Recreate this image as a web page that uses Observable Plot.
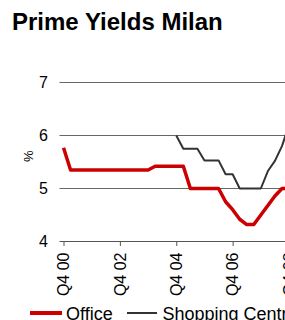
<!DOCTYPE html>
<html><head><meta charset="utf-8">
<script src="https://cdn.jsdelivr.net/npm/d3@7"></script>
<script src="https://cdn.jsdelivr.net/npm/@observablehq/plot@0.6"></script>
<style>
html,body{margin:0;padding:0;background:#fff;overflow:hidden;width:285px;height:320px;font-family:Arial,"Liberation Sans",sans-serif;}
#title{font-weight:bold;font-size:24px;line-height:24px;height:24px;padding:10px 0 0 12px;color:#000;white-space:nowrap;}
#chart svg{display:block;}
#legend{position:relative;height:18px;margin-top:-1px;font-size:18px;line-height:18px;white-space:nowrap;color:#000;}
#legend .sw{position:absolute;}
#legend .lb{position:absolute;top:0;}
</style></head><body>
<div id="title">Prime Yields Milan</div>
<div id="chart"></div>
<div id="legend"></div>
<script>
const quarters = ["Q4 00","Q1 01","Q2 01","Q3 01","Q4 01","Q1 02","Q2 02","Q3 02","Q4 02",
  "Q1 03","Q2 03","Q3 03","Q4 03","Q1 04","Q2 04","Q3 04","Q4 04",
  "Q1 05","Q2 05","Q3 05","Q4 05","Q1 06","Q2 06","Q3 06","Q4 06",
  "Q1 07","Q2 07","Q3 07","Q4 07","Q1 08","Q2 08","Q3 08","Q4 08"];
const office = [5.77,5.35,5.35,5.35,5.35,5.35,5.35,5.35,5.35,5.35,5.35,5.35,5.35,
  5.42,5.42,5.42,5.42,5.42,5.0,5.0,5.0,5.0,5.0,
  4.75,4.6,4.42,4.32,4.32,4.5,4.68,4.86,5.0,5.0];
const shopping = [null,null,null,null,null,null,null,null,null,null,null,null,null,null,null,null,
  6.0,5.75,5.75,5.75,5.53,5.53,5.53,5.27,5.27,5.0,5.0,5.0,5.0,5.33,5.52,5.8,6.2];
const tickLabels = ["Q4 00","Q4 02","Q4 04","Q4 06","Q4 08"];
const yTicks = [4,5,6,7];
const seriesNames = ["Office","Shopping Centre"];
const seriesColors = ["#cc0000","#333333"];

const data = quarters.map((q,i)=>({i, q, office: office[i], shopping: shopping[i]}));
const xPos = d => d.i + 0.5;

const chart = Plot.plot({
  width: 285, height: 272,
  marginLeft: 59.5, marginRight: 0, marginTop: 48, marginBottom: 65,
  style: {fontFamily: "Arial, 'Liberation Sans', sans-serif", fontSize: "16px", background: "#fff", color: "#000"},
  x: {type: "linear", domain: [0, quarters.length - 1]},
  y: {domain: [4, 7]},
  marks: [
    Plot.ruleY(yTicks.filter(v => v > 4), {stroke: "#666", strokeWidth: 1}),
    Plot.ruleY([4], {stroke: "#555", strokeWidth: 1}),
    Plot.axisY({ticks: yTicks, tickSize: 0, tickPadding: 12, tickFormat: d => String(d), fontSize: 16, label: null}),
    Plot.axisX({ticks: tickLabels.map(l => quarters.indexOf(l)), tickFormat: i => quarters[i],
      tickSize: 5, tickPadding: 6, tickRotate: -90, fontSize: 16, dx: 4, stroke: "#555", label: null}),
    Plot.text(["%"], {frameAnchor: "left", dx: -31, rotate: -90, fontSize: 13}),
    Plot.lineY(data, {x: xPos, y: "shopping", stroke: seriesColors[1], strokeWidth: 2, clip: true, strokeLinejoin: "miter", strokeLinecap: "butt"}),
    Plot.lineY(data, {x: xPos, y: "office", stroke: seriesColors[0], strokeWidth: 3.5, clip: true, strokeLinejoin: "round", strokeLinecap: "butt"})
  ]
});
document.getElementById("chart").appendChild(chart);

const legend = document.getElementById("legend");
const swX = [30, 126.5], swW = [32, 30], swH = [3.5, 2], lbX = [66, 162.5];
seriesNames.forEach((name, k) => {
  const sw = document.createElement("span");
  sw.className = "sw";
  sw.style.left = swX[k] + "px";
  sw.style.width = swW[k] + "px";
  sw.style.height = swH[k] + "px";
  sw.style.top = (8 - swH[k] / 2) + "px";
  sw.style.background = seriesColors[k];
  legend.appendChild(sw);
  const lb = document.createElement("span");
  lb.className = "lb";
  lb.style.left = lbX[k] + "px";
  lb.textContent = name;
  legend.appendChild(lb);
});
</script>
</body></html>
